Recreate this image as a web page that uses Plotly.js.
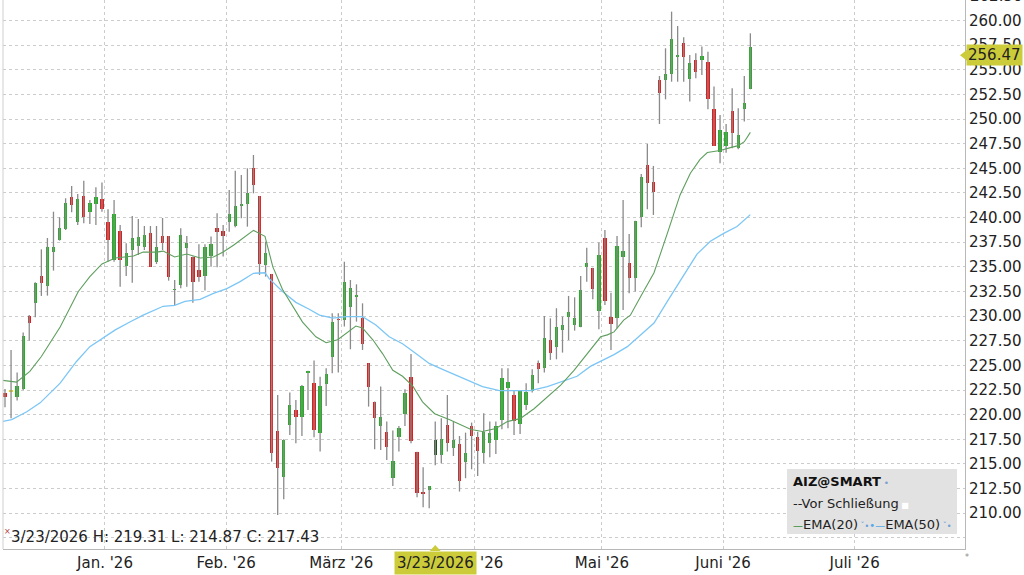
<!DOCTYPE html>
<html><head><meta charset="utf-8">
<script src="https://cdn.plot.ly/plotly-3.0.1.min.js"></script>
<style>html,body{margin:0;padding:0;background:#fff;}#chart{width:1024px;height:575px;}</style>
</head><body><div id="chart"></div>
<script>
// ---- data (trading-day index on x) ----
const openP = [222.17,222.3,221.77,222.58,230.02,231.3,234.11,233.1,236.48,237.73,
238.85,242.06,239.59,242.19,240.57,241.35,241.86,239.59,235.7,238.68,
235.09,236.71,237.15,236.99,238.47,235.53,238.13,238.13,232.62,233.16,
236.88,236.04,234.69,234.11,236.11,238.91,238.6,239.59,239.15,241.18,
241.38,245.0,242.19,235.19,234.28,218.39,213.72,218.96,220.48,219.81,
224.25,223.19,218.18,223.12,225.83,229.7,229.61,230.97,231.95,229.78,
225.22,221.33,218.86,218.22,213.55,217.71,220.08,223.86,216.25,212.15,
212.37,215.92,215.92,218.96,216.59,217.03,215.24,218.86,217.71,216.09,
217.1,217.44,219.47,222.68,222.0,219.06,220.99,222.44,225.28,224.71,
227.58,226.91,228.6,229.89,229.1,228.94,235.02,234.92,230.56,237.9,
229.89,229.78,236.04,235.36,233.84,240.03,245.34,243.61,253.96,253.96,
254.57,256.33,257.75,254.07,255.99,255.99,255.82,250.99,246.69,247.27,
250.82,247.03,251.0,253.02];
const highP = [222.61,226.57,224.27,228.33,230.12,233.43,236.78,237.93,240.6,240.03,
241.96,243.21,242.4,243.75,241.79,243.07,243.55,240.84,241.79,239.25,
237.39,240.16,239.86,239.15,239.15,239.15,239.96,238.13,233.67,238.91,
238.13,236.04,237.29,237.29,238.07,240.43,239.25,242.8,244.76,244.32,
245.0,246.35,242.19,237.56,234.28,222.0,217.5,222.24,221.5,223.02,
224.47,225.49,223.86,224.71,230.29,230.29,235.53,233.67,233.23,231.3,
225.22,221.33,222.85,219.3,218.39,218.86,222.58,226.16,216.25,214.67,
212.77,219.31,219.64,222.0,219.3,217.84,218.18,219.2,218.28,220.14,
219.3,219.3,224.71,224.71,222.44,222.44,223.19,224.61,225.49,230.02,
229.78,230.8,229.95,232.05,231.91,234.08,236.95,234.92,237.46,238.74,
232.38,238.13,241.79,238.34,239.69,244.42,247.47,245.24,254.37,257.18,
260.9,259.44,258.29,256.5,256.67,257.35,256.84,253.29,250.41,249.5,
253.12,251.09,254.37,258.7];
const lowP = [220.75,219.64,221.43,222.51,227.52,229.88,232.05,232.08,234.62,237.66,
238.74,240.54,239.25,239.42,239.35,239.25,240.6,235.53,235.53,232.99,
234.08,233.4,236.21,236.71,235.02,235.29,236.71,233.6,231.13,232.83,
232.99,231.37,233.5,232.59,235.02,234.96,236.04,238.57,239.01,239.93,
239.08,242.46,234.18,234.01,215.24,209.82,211.42,217.95,217.1,217.84,
220.48,217.71,216.26,220.89,224.2,224.27,228.94,226.64,229.44,226.57,
220.82,216.49,216.42,215.41,212.77,216.26,218.86,217.1,211.62,210.61,
210.5,214.87,215.07,216.26,215.81,212.2,213.55,214.46,213.78,215.07,
215.68,216.02,218.52,218.62,217.95,218.05,220.48,222.24,223.19,224.27,
225.56,225.62,226.3,227.58,228.53,228.87,233.5,231.71,228.66,231.13,
226.57,228.77,230.63,232.32,232.49,239.01,240.84,240.27,249.5,252.0,
253.79,253.79,253.79,251.77,254.13,254.47,250.99,247.27,245.51,246.59,
247.03,246.93,249.74,253.02];
const closeP = [221.77,222.3,222.92,227.99,229.34,233.33,233.33,236.99,237.05,238.98,
241.52,241.28,241.89,240.1,241.45,242.13,240.84,237.73,240.37,235.7,
236.44,237.97,238.0,238.2,235.02,237.05,237.46,234.01,232.78,238.2,
237.39,233.43,233.94,237.05,237.29,238.57,238.13,240.33,241.18,241.35,
242.46,243.31,235.29,236.44,216.09,214.56,217.44,220.99,219.81,222.92,
224.4,218.45,222.92,224.13,229.44,229.58,233.5,232.89,232.05,227.18,
222.85,219.64,219.74,216.69,215.34,218.62,222.17,217.37,212.09,212.0,
212.77,217.43,217.51,217.1,217.44,213.31,216.09,217.84,216.35,218.28,
218.12,218.86,223.69,223.29,219.4,222.44,222.34,224.03,224.61,227.75,
226.23,228.94,229.1,230.46,229.78,232.65,235.36,232.72,236.21,231.57,
229.21,237.12,236.64,233.84,239.69,244.16,243.48,242.63,252.68,254.57,
258.09,256.48,256.26,255.72,254.81,256.4,252.0,247.27,248.9,248.72,
248.55,248.38,251.6,257.35];

const ema20X = [-0.5,1.9,4.1,6,9.1,12.1,14,16,18.2,21.2,22.8,25,26.1,28,30,32.2,34.4,36,37.7,39.3,41,42.9,44.2,45.8,47.5,49.1,51.3,53,54.9,56.6,57.9,59,60.7,62.3,64,65.6,67.3,68.9,70.9,73.3,75,76.9,78.8,81,82.9,85,87.3,89.5,91.7,93.9,96.1,98.3,99.4,100.5,102.1,103.2,104.9,107.1,109.3,111.4,113.1,114.7,115.9,118,119.7,121,122,123];
const ema20 = [223.5,223.3,224.4,225.9,228.9,232.5,234.0,235.3,235.9,236.1,236.5,236.5,236.6,236.0,236.3,235.9,236.0,236.5,237.2,237.9,238.7,238.1,235.0,232.7,231.0,229.4,227.9,227.3,227.6,228.4,229.0,228.8,227.6,226.2,224.5,223.9,222.9,221.3,220.1,219.5,219.0,218.5,218.3,218.6,219.3,219.6,220.6,221.8,223.0,224.5,226.2,227.9,228.1,228.4,229.6,230.1,232.0,234.4,238.4,242.3,244.5,245.9,246.6,246.8,247.1,247.3,247.7,248.65];
const ema50X = [-0.5,1.1,3.6,5.8,9.1,11.8,14,16.2,18.2,20.6,22.8,26.1,28,29.7,32.2,34.4,36.6,38.8,41,42.9,43.6,45.8,48,50.2,51.9,54.1,56.3,59,61.2,63.4,65.6,67.8,70,72.2,74.4,76.6,78.8,81.6,84,86.7,89.5,92.2,94.4,96.6,98.8,100.5,102.7,104.3,107.1,109.3,111.5,114.2,116.4,118.6,120.8,122.1,123];
const ema50 = [219.3,219.5,220.3,221.2,223.2,225.4,226.9,227.8,228.6,229.4,230.1,231.0,231.1,231.5,231.7,232.3,232.8,233.5,234.35,234.4,233.8,232.5,231.4,230.7,230.1,229.8,229.95,229.95,229.1,227.9,227.2,226.2,225.2,224.6,224.0,223.4,222.85,222.45,222.45,222.45,222.85,223.4,223.9,224.9,225.6,226.1,226.9,227.75,229.3,231.5,233.7,236.3,237.6,238.4,239.1,239.8,240.3];

const monthTickPos = [16.5, 36.5, 55.5, 77.5, 98.5, 118.5, 140.2];
const monthLabels = ["Jan. '26", "Feb. '26", "März '26", "Apr. '26", "Mai '26", "Juni '26", "Juli '26"];
const hoverIdx = 71;
const hoverDate = "3/23/2026";
const lastPrice = 256.47;
const symbol = "AIZ@SMART";
const sessionLabel = "--Vor Schließung";
const emaLabels = ["EMA(20)", "EMA(50)"];

// ---- rendering ----
const FONT = "DejaVu Sans, Verdana, sans-serif";
const L = 3, R = 965, T = 0, B = 549;
const px = v => (v - L) / (R - L);
const py = v => (B - v) / (B - T);

const idx = openP.map((_, i) => i);
const bodyBase = openP.map((o, i) => Math.min(o, closeP[i]));
const bodyH = openP.map((o, i) => Math.max(Math.abs(closeP[i] - o), 0.16));
const bodyCol = openP.map((o, i) => {
  if (i === hoverIdx) return '#1f4f1f';
  if (closeP[i] > o) return '#1fb21f';
  if (closeP[i] < o) return '#e31b1b';
  return '#e6d21a';
});

const traces = [
  {type:'scatter', mode:'lines', x: ema50X, y: ema50, line:{color:'#7cc6f6', width:1.3}, hoverinfo:'skip'},
  {type:'scatter', mode:'lines', x: ema20X, y: ema20, line:{color:'#5e9e5e', width:1.1}, hoverinfo:'skip'},
  {type:'ohlc', x: idx, open: openP, high: highP, low: lowP, close: closeP, tickwidth: 0,
   increasing:{line:{color:'#8a8a8a', width:1.3}}, decreasing:{line:{color:'#8a8a8a', width:1.3}}, hoverinfo:'skip'},
  {type:'bar', x: idx, y: bodyH, base: bodyBase, width: 0.55, marker:{color: bodyCol, line:{width:0}}, hoverinfo:'skip'}
];

const yTickVals = [], yTickText = [];
for (let v = 207.5; v <= 260.001; v += 2.5) { yTickVals.push(v); yTickText.push(v < 209 ? '' : v.toFixed(2)); }

const YEL = '#cccc3a';
const shapes = [
  {type:'line', xref:'paper', yref:'paper', x0:0, x1:0, y0:0, y1:1, line:{color:'#cfcfcf', width:1}},
  {type:'rect', xref:'paper', yref:'paper', x0:px(787), x1:px(957), y0:py(534), y1:py(469), fillcolor:'#e2e2e2', line:{width:0}, layer:'above'},
  {type:'path', xref:'paper', yref:'y', path:`M ${px(960)} ${lastPrice} L ${px(967)} ${lastPrice+0.55} L ${px(967)} ${lastPrice-0.55} Z`, fillcolor:YEL, line:{width:0}},
  {type:'path', xref:'x', yref:'paper', path:`M ${hoverIdx} ${py(545)} L ${hoverIdx-0.9} ${py(551)} L ${hoverIdx+0.9} ${py(551)} Z`, fillcolor:YEL, line:{width:0}}
];

const hi = hoverIdx;
const annotations = [
  {xref:'paper', yref:'paper', x:px(968), y:1 + 4.2/549, xanchor:'left', yanchor:'middle', showarrow:false, text:'262.50', font:{family:FONT, size:15, color:'#222'}},
  {xref:'paper', yref:'y', x:px(966), y:lastPrice, xanchor:'left', yanchor:'middle', showarrow:false, text:lastPrice.toFixed(2), bgcolor:YEL, borderpad:1, font:{family:FONT, size:15, color:'#222'}},
  {xref:'x', yref:'paper', x:hi, y:py(563), xanchor:'center', yanchor:'middle', showarrow:false, text:hoverDate, bgcolor:YEL, borderpad:2, font:{family:FONT, size:15, color:'#222'}},
  {xref:'paper', yref:'paper', x:px(9), y:py(537), xanchor:'left', yanchor:'middle', showarrow:false,
   text:`${hoverDate} H: ${highP[hi].toFixed(2)} L: ${lowP[hi].toFixed(2)} C: ${closeP[hi].toFixed(2)}`, font:{family:FONT, size:15, color:'#222'}},
  {xref:'paper', yref:'paper', x:px(7), y:py(531), xanchor:'center', yanchor:'middle', showarrow:false, text:'×', font:{family:FONT, size:8, color:'#b04040'}},
  {xref:'paper', yref:'paper', x:px(967), y:py(557), xanchor:'center', yanchor:'middle', showarrow:false, text:'*', font:{family:FONT, size:8, color:'#888'}},
  {xref:'paper', yref:'paper', x:px(791), y:py(482), xanchor:'left', yanchor:'middle', showarrow:false,
   text:`<b>${symbol}</b><span style="color:#7a9fd0;font-size:9px"> •</span>`, font:{family:FONT, size:13, color:'#111'}},
  {xref:'paper', yref:'paper', x:px(791), y:py(503), xanchor:'left', yanchor:'middle', showarrow:false,
   text:sessionLabel + '<span style="color:#ffffff;font-size:8px"> ■</span>', font:{family:FONT, size:13, color:'#222'}},
  {xref:'paper', yref:'paper', x:px(791), y:py(524), xanchor:'left', yanchor:'middle', showarrow:false,
   text:`<span style="color:#3e8e3e;font-size:10px">—</span>${emaLabels[0]}<span style="color:#6a9fd8;font-size:8px"> ˇ•</span><span style="color:#5aa8e8;font-size:10px">•—</span>${emaLabels[1]}<span style="color:#6a9fd8;font-size:8px"> ˇ•</span>`,
   font:{family:FONT, size:13, color:'#222'}}
];

const layout = {
  width:1024, height:575, margin:{l:L, r:1024-R, t:T, b:575-B},
  paper_bgcolor:'#fff', plot_bgcolor:'#fff', showlegend:false, bargap:0,
  font:{family:FONT, size:15, color:'#222'},
  xaxis:{range:[-0.33, 158.42], tickmode:'array', tickvals:monthTickPos, ticktext:monthLabels,
    showgrid:true, gridcolor:'#cccccc', griddash:'dot', gridwidth:1, zeroline:false,
    showline:true, linecolor:'#b8b8b8', linewidth:1, ticks:'', tickfont:{family:FONT, size:15, color:'#222'},
    rangeslider:{visible:false}, fixedrange:true},
  yaxis:{side:'right', range:[206.37, 262.08], tickmode:'array', tickvals:yTickVals, ticktext:yTickText,
    showgrid:true, gridcolor:'#cccccc', griddash:'dot', gridwidth:1, zeroline:false,
    showline:true, linecolor:'#b8b8b8', linewidth:1, ticks:'', tickfont:{family:FONT, size:15, color:'#222'}, fixedrange:true},
  shapes, annotations
};

Plotly.newPlot('chart', traces, layout, {staticPlot:true, displayModeBar:false});
</script>
</body></html>
